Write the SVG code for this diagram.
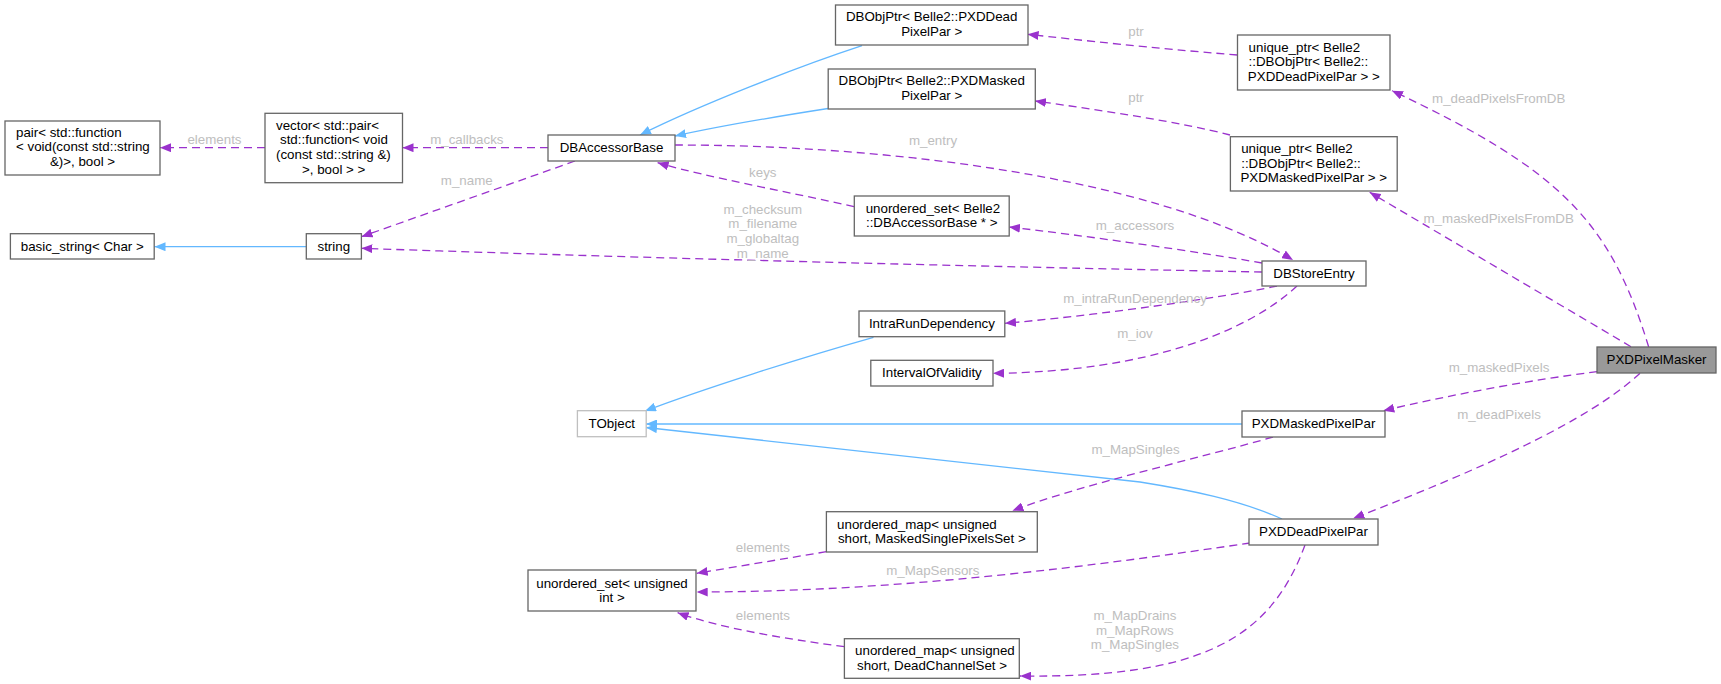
<svg xmlns="http://www.w3.org/2000/svg" width="1721" height="684" viewBox="0 0 1721 684">
<style>
text{font-family:"Liberation Sans",Arial,Helvetica,sans-serif;font-size:13.33px;fill:#000}
.n rect{fill:#fff;stroke:#666;stroke-width:1.3}
.n text.c{text-anchor:middle}
.lbl{fill:#bebebe;text-anchor:middle}
.u{fill:none;stroke:#9a32cd;stroke-width:1.3;stroke-dasharray:8,5;marker-end:url(#ap)}
.i{fill:none;stroke:#63b8ff;stroke-width:1.3;marker-end:url(#ab)}
</style>
<defs>
<marker id="ap" markerUnits="userSpaceOnUse" markerWidth="12" markerHeight="9" refX="11" refY="4.5" orient="auto"><path d="M0,0 L11,4.5 L0,9 z" fill="#9a32cd"/></marker>
<marker id="ab" markerUnits="userSpaceOnUse" markerWidth="12" markerHeight="9" refX="11" refY="4.5" orient="auto"><path d="M0,0 L11,4.5 L0,9 z" fill="#63b8ff"/></marker>
</defs>
<rect width="1721" height="684" fill="#fff"/>
<g id="edges">
<path class="u" d="M265,147.7 L160,147.7"/>
<path class="u" d="M548,147.7 L402.5,147.7"/>
<path class="u" d="M575,161 L361.5,236.7"/>
<path class="i" d="M306,246.7 L154.5,246.7"/>
<path class="u" d="M1262,272 C1050,268 700,260 361.4,248.3"/>
<path class="i" d="M862,45.7 C800,66 700,105 640,135"/>
<path class="i" d="M828,108.5 C780,116 720,126 675,136"/>
<path class="u" d="M854,206.7 C790,192 710,178 657.6,162.7"/>
<path class="u" d="M675,145 C880,145 1150,175 1293,260"/>
<path class="u" d="M1262,263 C1200,252 1080,235 1009,227"/>
<path class="u" d="M1277,286 C1220,298 1100,315 1005,323.3"/>
<path class="u" d="M1297,286 C1250,330 1150,372 993,373.3"/>
<path class="u" d="M1237.5,55 C1150,48 1080,40 1027.6,34.3"/>
<path class="u" d="M1230,135 C1180,122 1100,110 1035,101"/>
<path class="u" d="M1648.7,347 C1610,220 1560,170 1392,90.7"/>
<path class="u" d="M1631,346.7 L1369.7,192.3"/>
<path class="u" d="M1597,371.7 C1530,380 1450,395 1383.3,410.7"/>
<path class="u" d="M1640,373.3 C1590,420 1480,470 1353.3,518.3"/>
<path class="i" d="M873.5,337.3 C800,358 700,390 645,411"/>
<path class="i" d="M1242,424 L646,424"/>
<path class="i" d="M1282,519 C1240,500 1190,490 1140,482 L646,427.5"/>
<path class="u" d="M1273,437 C1200,458 1080,485 1012.4,510.7"/>
<path class="u" d="M826.4,551.7 L696.7,573.3"/>
<path class="u" d="M1250,543 C1100,565 900,592 696.7,592"/>
<path class="u" d="M844.4,646.7 C780,638 720,628 677.6,612.7"/>
<path class="u" d="M1305,545 C1270,640 1200,678 1020,676"/>
<text class="lbl" x="214.5" y="144.2">elements</text>
<text class="lbl" x="466.8" y="144.2">m_callbacks</text>
<text class="lbl" x="466.8" y="184.5">m_name</text>
<text class="lbl" x="762.8" y="177.2">keys</text>
<text class="lbl" x="933" y="144.5">m_entry</text>
<text class="lbl" x="762.8" y="213.5">m_checksum</text>
<text class="lbl" x="762.8" y="228.2">m_filename</text>
<text class="lbl" x="762.8" y="243.2">m_globaltag</text>
<text class="lbl" x="762.8" y="257.8">m_name</text>
<text class="lbl" x="1136" y="35.5">ptr</text>
<text class="lbl" x="1136" y="102.2">ptr</text>
<text class="lbl" x="1498.7" y="102.8">m_deadPixelsFromDB</text>
<text class="lbl" x="1498.7" y="222.8">m_maskedPixelsFromDB</text>
<text class="lbl" x="1135" y="229.5">m_accessors</text>
<text class="lbl" x="1135" y="302.5">m_intraRunDependency</text>
<text class="lbl" x="1135" y="337.5">m_iov</text>
<text class="lbl" x="1499" y="371.5">m_maskedPixels</text>
<text class="lbl" x="1499" y="418.8">m_deadPixels</text>
<text class="lbl" x="1135.5" y="453.5">m_MapSingles</text>
<text class="lbl" x="762.9" y="551.8">elements</text>
<text class="lbl" x="932.8" y="575.2">m_MapSensors</text>
<text class="lbl" x="762.9" y="620.2">elements</text>
<text class="lbl" x="1134.9" y="620.2">m_MapDrains</text>
<text class="lbl" x="1134.9" y="634.8">m_MapRows</text>
<text class="lbl" x="1134.9" y="649.2">m_MapSingles</text>
</g>
<g id="n_pair" class="n"><rect x="5" y="121" width="155" height="54"/>
<text x="16" y="136.8">pair&lt; std::function</text><text x="16" y="151.2">&lt; void(const std::string</text><text class="c" x="82.5" y="166.2">&amp;)&gt;, bool &gt;</text></g>
<g id="n_vector" class="n"><rect x="265" y="113.3" width="137.5" height="69.4"/>
<text x="276" y="129.5">vector&lt; std::pair&lt;</text><text x="280" y="144.2">std::function&lt; void</text><text x="276" y="158.8">(const std::string &amp;)</text><text class="c" x="333.7" y="173.5">&gt;, bool &gt; &gt;</text></g>
<g id="n_dbaccessorbase" class="n"><rect x="548" y="135" width="127" height="26"/>
<text class="c" x="611.5" y="152">DBAccessorBase</text></g>
<g id="n_basic_string" class="n"><rect x="10.4" y="233.7" width="143.8" height="25.3"/>
<text class="c" x="82.3" y="250.5">basic_string&lt; Char &gt;</text></g>
<g id="n_string" class="n"><rect x="306.3" y="233.7" width="55.1" height="25.3"/>
<text class="c" x="333.8" y="250.5">string</text></g>
<g id="n_dbobjptr_dead" class="n"><rect x="835.5" y="5" width="192.5" height="40"/>
<text class="c" x="931.7" y="21.2">DBObjPtr&lt; Belle2::PXDDead</text><text class="c" x="931.7" y="36.2">PixelPar &gt;</text></g>
<g id="n_dbobjptr_masked" class="n"><rect x="828.2" y="69" width="207.1" height="40"/>
<text class="c" x="931.7" y="84.8">DBObjPtr&lt; Belle2::PXDMasked</text><text class="c" x="931.7" y="99.8">PixelPar &gt;</text></g>
<g id="n_uset_accessor" class="n"><rect x="854.3" y="196" width="154.9" height="40"/>
<text x="865.7" y="212.5">unordered_set&lt; Belle2</text><text class="c" x="931.7" y="227">::DBAccessorBase * &gt;</text></g>
<g id="n_uptr_dead" class="n"><rect x="1237.5" y="35" width="152.5" height="55"/>
<text x="1248.6" y="51.5">unique_ptr&lt; Belle2</text><text x="1248.6" y="66.2">::DBObjPtr&lt; Belle2::</text><text class="c" x="1313.8" y="80.8">PXDDeadPixelPar &gt; &gt;</text></g>
<g id="n_uptr_masked" class="n"><rect x="1230.4" y="136.7" width="166.8" height="54.3"/>
<text x="1241.2" y="152.8">unique_ptr&lt; Belle2</text><text x="1241.2" y="167.5">::DBObjPtr&lt; Belle2::</text><text class="c" x="1313.8" y="182.2">PXDMaskedPixelPar &gt; &gt;</text></g>
<g id="n_dbstoreentry" class="n"><rect x="1262" y="261" width="104" height="25"/>
<text class="c" x="1314" y="277.5">DBStoreEntry</text></g>
<g id="n_intrarun" class="n"><rect x="859" y="311" width="145.8" height="25.7"/>
<text class="c" x="931.9" y="328">IntraRunDependency</text></g>
<g id="n_iov" class="n"><rect x="870.8" y="360.3" width="122.2" height="25.7"/>
<text class="c" x="931.9" y="377.3">IntervalOfValidity</text></g>
<g id="n_tobject" class="n"><rect x="577.4" y="410.7" width="68.8" height="26" style="stroke:#bfbfbf"/>
<text class="c" x="611.8" y="428">TObject</text></g>
<g id="n_pxdmaskedpixelpar" class="n"><rect x="1242" y="411" width="143" height="26"/>
<text class="c" x="1313.5" y="428.3">PXDMaskedPixelPar</text></g>
<g id="n_pxdpixelmasker" class="n"><rect x="1597" y="347" width="119" height="26" style="fill:#999"/>
<text class="c" x="1656.5" y="364.3">PXDPixelMasker</text></g>
<g id="n_umap_masked" class="n"><rect x="826.4" y="511.7" width="210.9" height="40.3"/>
<text x="837.1" y="528.5">unordered_map&lt; unsigned</text><text class="c" x="931.8" y="542.8">short, MaskedSinglePixelsSet &gt;</text></g>
<g id="n_uset_uint" class="n"><rect x="528" y="570" width="168" height="41"/>
<text class="c" x="612" y="587.5">unordered_set&lt; unsigned</text><text class="c" x="612" y="601.8">int &gt;</text></g>
<g id="n_pxddeadpixelpar" class="n"><rect x="1249" y="519" width="129" height="26"/>
<text class="c" x="1313.5" y="536.3">PXDDeadPixelPar</text></g>
<g id="n_umap_dead" class="n"><rect x="844.4" y="638.7" width="174.9" height="39.6"/>
<text x="855.1" y="654.8">unordered_map&lt; unsigned</text><text class="c" x="932" y="669.5">short, DeadChannelSet &gt;</text></g>
</svg>
